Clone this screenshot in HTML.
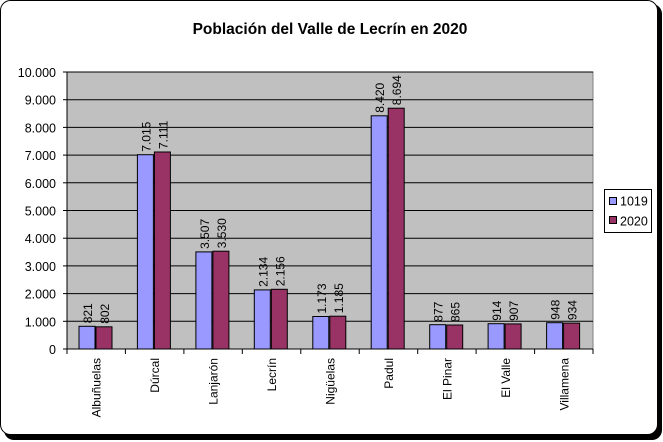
<!DOCTYPE html>
<html><head><meta charset="utf-8"><style>body{margin:0;background:#fff}svg{display:block;font-family:"Liberation Sans",sans-serif}</style></head><body>
<svg width="663" height="442" xmlns="http://www.w3.org/2000/svg">
<rect x="4" y="4" width="658" height="436" rx="10" fill="#000"/>
<rect x="0.5" y="0.5" width="657" height="434" rx="10" fill="#fff" stroke="#000"/>
<text x="330" y="34" font-size="15.5" font-weight="bold" text-anchor="middle">Población del Valle de Lecrín en 2020</text>
<rect x="67" y="72" width="526" height="277" fill="#c0c0c0" stroke="#808080"/>
<g stroke="#000">
<line x1="67" x2="593" y1="321.3" y2="321.3"/><line x1="67" x2="593" y1="293.6" y2="293.6"/><line x1="67" x2="593" y1="265.9" y2="265.9"/><line x1="67" x2="593" y1="238.2" y2="238.2"/><line x1="67" x2="593" y1="210.5" y2="210.5"/><line x1="67" x2="593" y1="182.8" y2="182.8"/><line x1="67" x2="593" y1="155.1" y2="155.1"/><line x1="67" x2="593" y1="127.4" y2="127.4"/><line x1="67" x2="593" y1="99.7" y2="99.7"/><line x1="67" x2="593" y1="72" y2="72"/>
<line x1="63" x2="67" y1="349" y2="349"/><line x1="63" x2="67" y1="321.3" y2="321.3"/><line x1="63" x2="67" y1="293.6" y2="293.6"/><line x1="63" x2="67" y1="265.9" y2="265.9"/><line x1="63" x2="67" y1="238.2" y2="238.2"/><line x1="63" x2="67" y1="210.5" y2="210.5"/><line x1="63" x2="67" y1="182.8" y2="182.8"/><line x1="63" x2="67" y1="155.1" y2="155.1"/><line x1="63" x2="67" y1="127.4" y2="127.4"/><line x1="63" x2="67" y1="99.7" y2="99.7"/><line x1="63" x2="67" y1="72" y2="72"/>
<line x1="67" x2="67" y1="349" y2="354"/><line x1="125.4" x2="125.4" y1="349" y2="354"/><line x1="183.9" x2="183.9" y1="349" y2="354"/><line x1="242.3" x2="242.3" y1="349" y2="354"/><line x1="300.8" x2="300.8" y1="349" y2="354"/><line x1="359.2" x2="359.2" y1="349" y2="354"/><line x1="417.7" x2="417.7" y1="349" y2="354"/><line x1="476.1" x2="476.1" y1="349" y2="354"/><line x1="534.6" x2="534.6" y1="349" y2="354"/><line x1="593" x2="593" y1="349" y2="354"/>
</g>
<g font-size="12.5" text-anchor="end">
<text x="56" y="354">0</text><text x="56" y="326.3">1.000</text><text x="56" y="298.6">2.000</text><text x="56" y="270.9">3.000</text><text x="56" y="243.2">4.000</text><text x="56" y="215.5">5.000</text><text x="56" y="187.8">6.000</text><text x="56" y="160.1">7.000</text><text x="56" y="132.4">8.000</text><text x="56" y="104.7">9.000</text><text x="56" y="77">10.000</text>
</g>
<g stroke="#000" fill="#9999ff">
<rect x="79" y="326.3" width="16" height="22.7"/><rect x="137.4" y="154.7" width="16" height="194.3"/><rect x="195.9" y="251.9" width="16" height="97.1"/><rect x="254.3" y="289.9" width="16" height="59.1"/><rect x="312.8" y="316.5" width="16" height="32.5"/><rect x="371.2" y="115.8" width="16" height="233.2"/><rect x="429.7" y="324.7" width="16" height="24.3"/><rect x="488.1" y="323.7" width="16" height="25.3"/><rect x="546.6" y="322.7" width="16" height="26.3"/>
</g>
<g stroke="#000" fill="#993366">
<rect x="96" y="326.8" width="16" height="22.2"/><rect x="154.4" y="152" width="16" height="197"/><rect x="212.9" y="251.2" width="16" height="97.8"/><rect x="271.3" y="289.3" width="16" height="59.7"/><rect x="329.8" y="316.2" width="16" height="32.8"/><rect x="388.2" y="108.2" width="16" height="240.8"/><rect x="446.7" y="325" width="16" height="24"/><rect x="505.1" y="323.9" width="16" height="25.1"/><rect x="563.6" y="323.1" width="16" height="25.9"/>
</g>
<line x1="67" x2="593" y1="349" y2="349" stroke="#000"/><line x1="67" x2="67" y1="72" y2="349" stroke="#000"/>
<g font-size="12">
<text transform="translate(92,323.3) rotate(-90)">821</text>
<text transform="translate(150.4,151.7) rotate(-90)">7.015</text>
<text transform="translate(208.9,248.9) rotate(-90)">3.507</text>
<text transform="translate(267.3,286.9) rotate(-90)">2.134</text>
<text transform="translate(325.8,313.5) rotate(-90)">1.173</text>
<text transform="translate(384.2,112.8) rotate(-90)">8.420</text>
<text transform="translate(442.7,321.7) rotate(-90)">877</text>
<text transform="translate(501.1,320.7) rotate(-90)">914</text>
<text transform="translate(559.6,319.7) rotate(-90)">948</text>
<text transform="translate(109,323.8) rotate(-90)">802</text>
<text transform="translate(167.4,149) rotate(-90)">7.111</text>
<text transform="translate(225.9,248.2) rotate(-90)">3.530</text>
<text transform="translate(284.3,286.3) rotate(-90)">2.156</text>
<text transform="translate(342.8,313.2) rotate(-90)">1.185</text>
<text transform="translate(401.2,105.2) rotate(-90)">8.694</text>
<text transform="translate(459.7,322) rotate(-90)">865</text>
<text transform="translate(518.1,320.9) rotate(-90)">907</text>
<text transform="translate(576.6,320.1) rotate(-90)">934</text>
</g>
<g font-size="12" text-anchor="end">
<text transform="translate(100.7,358) rotate(-90)">Albuñuelas</text>
<text transform="translate(159.2,358) rotate(-90)">Dúrcal</text>
<text transform="translate(217.6,358) rotate(-90)">Lanjarón</text>
<text transform="translate(276.1,358) rotate(-90)">Lecrín</text>
<text transform="translate(334.5,358) rotate(-90)">Nigüelas</text>
<text transform="translate(392.9,358) rotate(-90)">Padul</text>
<text transform="translate(451.4,358) rotate(-90)">El Pinar</text>
<text transform="translate(509.8,358) rotate(-90)">El Valle</text>
<text transform="translate(568.3,358) rotate(-90)">Villamena</text>
</g>
<rect x="604.5" y="189.5" width="47" height="43" fill="#fff" stroke="#000"/>
<rect x="609.5" y="197.5" width="7" height="7" fill="#9999ff" stroke="#000"/>
<rect x="609.5" y="216.5" width="7" height="7" fill="#993366" stroke="#000"/>
<text x="620" y="205.5" font-size="12.5">1019</text>
<text x="620" y="225.5" font-size="12.5">2020</text>
</svg>
</body></html>
